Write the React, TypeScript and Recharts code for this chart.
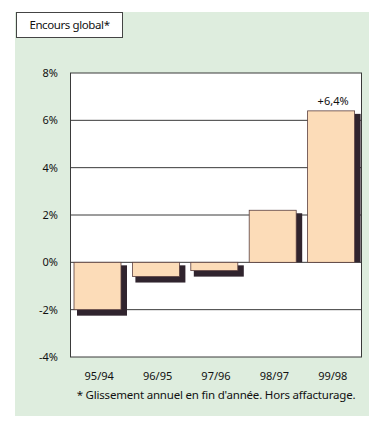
import { BarChart, Bar, XAxis, YAxis, CartesianGrid, LabelList } from 'recharts'

// Glissement annuel de l'encours global, en %
const periodes = ['95/94', '96/95', '97/96', '98/97', '99/98']
const variations = [-2.0, -0.6, -0.35, 2.2, 6.4]
const etiquettes = ['', '', '', '', '+6,4%']
const graduations = [-4, -2, 0, 2, 4, 6, 8]

const C = {
  fond: '#deedde',
  face: '#fcdcb8',
  bord: '#5b4040',
  ombre: '#30242e',
  grille: '#3a3a3a',
  texte: '#111111',
}

const FONT = '"Noto Sans", "Open Sans", sans-serif'

const data = periodes.map((p, i) => ({ periode: p, valeur: variations[i], label: etiquettes[i] }))

// barre pleine avec une ombre portée décalée vers la droite et le bas
function BarreOmbree(props: any) {
  const { x, y, width, height, value } = props
  const top = Math.min(y, y + height)
  const bottom = Math.max(y, y + height)
  const fx = x - 2
  let ombre
  if (value >= 0) {
    ombre = <rect x={fx + 6} y={top + 3} width={width} height={Math.max(bottom - top - 3, 0)} fill={C.ombre} />
  } else {
    ombre = <rect x={fx + 3} y={top + 3} width={width + 3} height={bottom - top + 3} fill={C.ombre} />
  }
  return (
    <g>
      {ombre}
      <rect x={fx} y={top} width={width} height={bottom - top} fill={C.face} stroke={C.bord} strokeWidth={0.8} />
    </g>
  )
}

export default function App() {
  return (
    <div style={{ position: 'absolute', left: 0, top: 0, width: 369, height: 425, background: 'white', fontFamily: FONT }}>
      <div style={{ position: 'absolute', left: 15, top: 12, width: 354, height: 404, background: C.fond }} />
      <div style={{
        position: 'absolute', left: 16, top: 12, width: 105, height: 24, background: 'white',
        border: '1px solid #444', fontSize: 11.5, color: C.texte, lineHeight: '24px', textAlign: 'center', letterSpacing: -0.4,
      }}>
        Encours global*
      </div>
      <div style={{ position: 'absolute', left: 0, top: 0 }}>
        <BarChart width={369} height={425} data={data} margin={{ top: 73, right: 7, bottom: 38, left: 0 }} barSize={47}>
          <CartesianGrid
            fill="white"
            stroke={C.grille}
            strokeWidth={1}
            horizontalValues={graduations}
            verticalPoints={[70.5, 361.5]}
          />
          <XAxis
            dataKey="periode"
            height={30}
            axisLine={false}
            tickLine={false}
            tickSize={0}
            tickMargin={15}
            tick={{ fontSize: 11, fill: C.texte, fontFamily: FONT }}
          />
          <YAxis
            width={70}
            domain={[-4, 8]}
            ticks={graduations}
            axisLine={false}
            tickLine={false}
            tickSize={0}
            tickMargin={12}
            tickFormatter={(v) => `${v}%`}
            tick={{ fontSize: 11, fill: C.texte, fontFamily: FONT }}
          />
          <Bar dataKey="valeur" shape={BarreOmbree} isAnimationActive={false}>
            <LabelList dataKey="label" position="top" offset={6} style={{ fontSize: 11, fill: C.texte, fontFamily: FONT }} />
          </Bar>
        </BarChart>
      </div>
      <div style={{ position: 'absolute', left: 70, width: 292, top: 387, textAlign: 'center', fontSize: 11.5, color: C.texte, letterSpacing: -0.2, whiteSpace: 'nowrap' }}>
        * Glissement annuel en fin d'année. Hors affacturage.
      </div>
    </div>
  )
}
